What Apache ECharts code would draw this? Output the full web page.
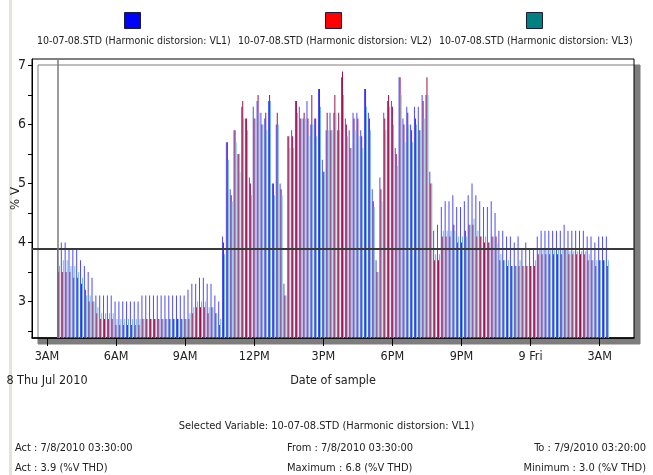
<!DOCTYPE html>
<html>
<head>
<meta charset="utf-8">
<script src="https://cdn.jsdelivr.net/npm/echarts@6/dist/echarts.min.js"></script>
<style>
html, body { margin: 0; padding: 0; background: #fff; }
#chart { width: 653px; height: 475px; }
</style>
</head>
<body>
<div id="chart"></div>
<script>
var seriesNames = [
  '10-07-08.STD (Harmonic distorsion: VL1)',
  '10-07-08.STD (Harmonic distorsion: VL2)',
  '10-07-08.STD (Harmonic distorsion: VL3)'
];
var legendColors = ['#0000ff', '#ff0000', '#008080'];
var barColors = ['#4b4bff', '#a0104e', '#72c0c0'];

// samples every 10 minutes from 03:30 (hours counted from 8 Jul 00:00)
var startHour = 3.5;
var stepHour = 1 / 6;

// %V THD, 144 samples each
var vl1 = [3.9, 4.0, 4.0, 3.9, 3.9, 3.9, 3.7, 3.6, 3.5, 3.4, 3.1, 3.1, 3.1, 3.1, 3.1, 3.0, 3.0, 3.0, 3.0, 3.0, 3.0, 3.0, 3.1, 3.1, 3.1, 3.1, 3.1, 3.1, 3.1, 3.1, 3.1, 3.1, 3.1, 3.1, 3.2, 3.3, 3.3, 3.4, 3.4, 3.3, 3.3, 3.1, 3.0, 4.1, 5.7, 4.9, 5.9, 5.5, 6.3, 6.1, 5.1, 6.3, 6.4, 6.2, 6.1, 6.4, 5.0, 6.0, 5.0, 3.3, 5.8, 5.9, 6.4, 6.3, 6.1, 6.4, 6.0, 6.1, 6.6, 5.4, 5.9, 6.2, 6.2, 5.9, 6.8, 6.1, 5.9, 6.2, 6.2, 5.9, 6.6, 6.2, 4.9, 3.7, 5.1, 6.2, 6.4, 6.4, 5.6, 6.8, 6.1, 6.3, 6.0, 6.3, 6.3, 6.5, 6.5, 5.2, 4.2, 4.3, 4.6, 4.7, 4.7, 4.8, 4.6, 4.6, 4.7, 4.8, 5.0, 4.8, 4.7, 4.6, 4.6, 4.7, 4.5, 4.2, 4.2, 4.1, 4.1, 4.0, 4.1, 3.9, 4.0, 3.9, 3.9, 4.1, 4.2, 4.2, 4.2, 4.2, 4.2, 4.2, 4.3, 4.2, 4.2, 4.2, 4.2, 4.2, 4.1, 4.1, 4.0, 4.1, 4.1, 4.1];
var vl2 = [3.5, 3.5, 3.5, 3.5, 3.4, 3.4, 3.3, 3.2, 3.0, 3.0, 2.8, 2.7, 2.7, 2.7, 2.7, 2.6, 2.6, 2.6, 2.6, 2.6, 2.6, 2.6, 2.7, 2.7, 2.7, 2.7, 2.7, 2.7, 2.7, 2.7, 2.7, 2.7, 2.7, 2.7, 2.7, 2.8, 2.9, 2.9, 2.9, 2.8, 2.9, 2.8, 2.6, 4.0, 5.7, 4.8, 5.9, 5.5, 6.4, 6.1, 5.0, 6.1, 6.5, 6.0, 6.2, 6.5, 5.0, 6.2, 4.9, 3.1, 5.8, 5.8, 6.4, 6.1, 6.2, 6.1, 6.5, 6.1, 6.6, 5.2, 6.2, 5.9, 6.5, 6.2, 6.9, 6.0, 5.6, 6.1, 6.1, 5.8, 6.6, 6.1, 4.7, 3.5, 4.9, 6.1, 6.5, 6.3, 5.5, 6.8, 6.0, 6.2, 5.9, 6.1, 5.9, 6.4, 6.8, 5.0, 3.7, 3.7, 4.1, 4.1, 4.1, 4.3, 4.0, 4.0, 4.2, 4.3, 4.3, 4.1, 4.1, 4.0, 4.0, 4.1, 4.1, 3.7, 3.7, 3.6, 3.6, 3.6, 3.6, 3.6, 3.6, 3.6, 3.6, 3.8, 3.8, 3.8, 3.8, 3.8, 3.8, 3.8, 3.9, 3.8, 3.8, 3.8, 3.8, 3.8, 3.7, 3.7, 3.6, 3.7, 3.7, 3.6];
var vl3 = [3.6, 3.7, 3.7, 3.6, 3.6, 3.5, 3.4, 3.1, 3.1, 3.0, 2.9, 2.8, 2.8, 2.8, 2.8, 2.7, 2.7, 2.7, 2.7, 2.7, 2.7, 2.7, 2.7, 2.7, 2.7, 2.7, 2.7, 2.7, 2.7, 2.7, 2.7, 2.7, 2.7, 2.7, 2.8, 2.9, 3.0, 3.0, 3.0, 2.9, 2.9, 2.8, 2.7, 3.8, 5.4, 4.7, 5.7, 5.2, 6.1, 5.9, 4.8, 6.1, 6.2, 6.0, 5.9, 6.4, 4.8, 6.0, 4.8, 3.1, 5.6, 5.6, 6.2, 6.1, 6.1, 5.8, 6.0, 5.8, 6.3, 5.2, 5.9, 5.9, 6.2, 5.9, 6.5, 5.8, 5.6, 5.9, 5.8, 5.6, 6.3, 5.9, 4.6, 3.5, 4.7, 5.9, 6.3, 6.0, 5.3, 6.5, 5.7, 6.0, 5.7, 6.0, 5.9, 6.1, 6.5, 5.0, 3.8, 3.8, 4.2, 4.2, 4.2, 4.2, 4.1, 4.1, 4.1, 4.3, 4.4, 4.2, 4.1, 4.1, 4.0, 4.1, 4.0, 3.8, 3.7, 3.7, 3.6, 3.6, 3.7, 3.6, 3.6, 3.6, 3.7, 3.9, 3.9, 3.9, 3.9, 3.9, 3.9, 3.9, 3.9, 3.85, 3.85, 3.85, 3.85, 3.85, 3.8, 3.7, 3.7, 3.7, 3.7, 3.7];

var xTickValues = [3, 6, 9, 12, 15, 18, 21, 24, 27];
var xTickLabels = ['3AM\n8 Thu Jul 2010', '6AM', '9AM', '12PM', '3PM', '6PM', '9PM', '9 Fri', '3AM'];
var yLabelValues = [3, 4, 5, 6, 7];
var yTickValues = [2.5, 3, 3.5, 4, 4.5, 5, 5.5, 6, 6.5, 7];

var actHour = 3.5;
var actValue = 3.9;

// narrow text: DejaVu Sans in its condensed width
var FONT = "'DejaVu Sans'";
var STRETCH = 'condensed';

function txt(size) {
  return { fontFamily: FONT, fontStyle: STRETCH, fontWeight: 'normal', fontSize: size, color: '#222' };
}

function toPoints(vals) {
  var out = [];
  for (var i = 0; i < vals.length; i++) out.push([startHour + i * stepHour, vals[i]]);
  return out;
}

var allValues = [vl1, vl2, vl3];
var chart = echarts.init(document.getElementById('chart'));

var series = [];
for (var k = 0; k < 3; k++) {
  var s = {
    name: seriesNames[k],
    type: 'bar',
    data: toPoints(allValues[k]),
    barWidth: 0.9,
    barGap: '0%',
    itemStyle: { color: barColors[k] },
    silent: true
  };
  if (k === 0) {
    s.markLine = {
      symbol: 'none',
      silent: true,
      label: { show: false },
      data: [
        { yAxis: actValue, lineStyle: { color: '#3a3a3a', width: 2, type: 'solid' } },
        { xAxis: actHour, lineStyle: { color: '#7a7a7a', width: 1.5, type: 'solid' } }
      ]
    };
  }
  series.push(s);
}

// one legend per series, label under its colour square
var legends = [];
var legendLeft = [32, 233, 434];
for (var j = 0; j < 3; j++) {
  legends.push({
    data: [{ name: seriesNames[j], itemStyle: { color: legendColors[j] } }],
    left: legendLeft[j], top: 36, padding: 0,
    itemWidth: 0, itemHeight: 0,
    selectedMode: false,
    textStyle: txt(10.5)
  });
}

var swatchX = [124, 325, 526];
var graphics = [
  { type: 'rect', left: 9, top: 0, shape: { width: 3, height: 475 }, style: { fill: '#e4e4dc' }, silent: true }
];
for (var m = 0; m < 3; m++) {
  graphics.push({
    type: 'rect', left: swatchX[m], top: 12,
    shape: { width: 16, height: 16 },
    style: { fill: legendColors[m], stroke: '#1a1a3a', lineWidth: 1 },
    silent: true
  });
}

var option = {
  animation: false,
  backgroundColor: '#fff',
  title: [
    { text: 'Selected Variable: 10-07-08.STD (Harmonic distorsion: VL1)', left: 'center', top: 416, textStyle: txt(11) },
    { text: 'Act : 7/8/2010 03:30:00', left: 10, top: 438, textStyle: txt(11) },
    { text: 'From : 7/8/2010 03:30:00', left: 282, top: 438, textStyle: txt(11) },
    { text: 'To : 7/9/2010 03:20:00', right: 2, top: 438, textStyle: txt(11) },
    { text: 'Act : 3.9 (%V THD)', left: 10, top: 458, textStyle: txt(11) },
    { text: 'Maximum : 6.8 (%V THD)', left: 282, top: 458, textStyle: txt(11) },
    { text: 'Minimum : 3.0 (%V THD)', right: 2, top: 458, textStyle: txt(11) }
  ],
  legend: legends,
  graphic: graphics,
  grid: {
    left: 32, right: 19, top: 59, bottom: 137,
    containLabel: false,
    outerBoundsMode: 'none',
    show: true,
    backgroundColor: '#fff',
    borderColor: '#000',
    borderWidth: 1,
    shadowColor: '#7d7d7d',
    shadowOffsetX: 6,
    shadowOffsetY: 6,
    shadowBlur: 0
  },
  xAxis: {
    type: 'value',
    min: 2.35,
    max: 28.49,
    name: 'Date of sample',
    nameLocation: 'middle',
    nameGap: 36,
    nameMoveOverlap: false,
    nameTextStyle: txt(12.5),
    axisLine: { show: true, lineStyle: { color: '#000', width: 1.5 } },
    axisTick: { show: true, customValues: xTickValues, length: 8, lineStyle: { color: '#000' } },
    axisLabel: Object.assign(txt(12.5), {
      customValues: xTickValues,
      margin: 7,
      lineHeight: 24,
      formatter: function (v) {
        var idx = xTickValues.indexOf(Math.round(v));
        return idx >= 0 ? xTickLabels[idx] : '';
      }
    }),
    splitLine: { show: false }
  },
  yAxis: {
    type: 'value',
    min: 2.38,
    max: 7.11,
    name: '% V',
    nameLocation: 'middle',
    nameRotate: 90,
    nameGap: 10,
    nameMoveOverlap: false,
    nameTextStyle: txt(13),
    axisLine: { show: true, lineStyle: { color: '#000', width: 1 } },
    axisTick: { show: true, customValues: yTickValues, length: 4, lineStyle: { color: '#000' } },
    axisLabel: Object.assign(txt(14), { customValues: yLabelValues, margin: 6 }),
    splitLine: { show: false }
  },
  series: series
};

chart.setOption(option);
</script>
</body>
</html>
